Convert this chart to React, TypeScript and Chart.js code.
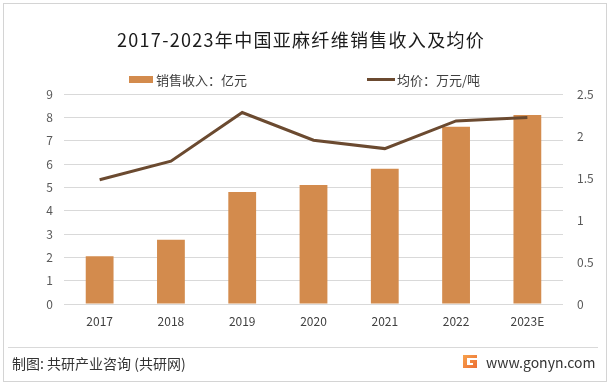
import { useEffect, useRef } from "react";
import { Chart, registerables } from "chart.js";

Chart.register(...registerables);

const categories = ["2017", "2018", "2019", "2020", "2021", "2022", "2023E"];
const revenue = [2.05, 2.75, 4.8, 5.1, 5.8, 7.6, 8.1];
const avgPrice = [1.48, 1.7, 2.28, 1.95, 1.85, 2.18, 2.22];
const leftTicks = ["0", "1", "2", "3", "4", "5", "6", "7", "8", "9"];
const rightTicks = ["0", "0.5", "1", "1.5", "2", "2.5"];
const titleText = "2017-2023年中国亚麻纤维销售收入及均价";
const revenueLabel = "销售收入：亿元";
const priceLabel = "均价：万元/吨";
const sourceText = "制图: 共研产业咨询 (共研网)";
const siteText = "www.gonyn.com";

const BAR_COLOR = "#D38B4D";
const LINE_COLOR = "#6B4A30";
const FONT = "'Noto Sans CJK SC', 'Noto Sans', sans-serif";

const decorPlugin = {
  id: "decor",
  beforeDraw(chart: any) {
    const ctx = chart.ctx;
    ctx.save();
    ctx.fillStyle = "#ffffff";
    ctx.fillRect(0, 0, chart.width, chart.height);
    ctx.restore();
  },
  afterDraw(chart: any) {
    const ctx = chart.ctx;
    const ds = chart.data.datasets;
    ctx.save();
    // outer border
    ctx.strokeStyle = "#d4d4d4";
    ctx.lineWidth = 1;
    ctx.strokeRect(3.5, 3.5, 603, 378);
    // title
    ctx.fillStyle = "#1a1a1a";
    ctx.font = `18px ${FONT}`;
    ctx.textAlign = "left";
    ctx.textBaseline = "middle";
    try {
      (ctx as any).letterSpacing = "1.3px";
    } catch (e) {}
    const tw = ctx.measureText(titleText).width;
    ctx.fillText(titleText, 301 - tw / 2, 40);
    try {
      (ctx as any).letterSpacing = "0px";
    } catch (e) {}
    // legend
    ctx.font = `13px ${FONT}`;
    ctx.textAlign = "left";
    ctx.fillStyle = ds[0].backgroundColor;
    ctx.fillRect(129, 76, 24, 7);
    ctx.fillStyle = "#404040";
    ctx.fillText(ds[0].label, 156, 80);
    ctx.strokeStyle = ds[1].borderColor;
    ctx.lineWidth = 3;
    ctx.beginPath();
    ctx.moveTo(367, 79.5);
    ctx.lineTo(395, 79.5);
    ctx.stroke();
    ctx.fillStyle = "#404040";
    ctx.fillText(ds[1].label, 397, 80);
    // separator
    ctx.strokeStyle = "#d9d9d9";
    ctx.lineWidth = 1;
    ctx.beginPath();
    ctx.moveTo(8, 347.5);
    ctx.lineTo(598, 347.5);
    ctx.stroke();
    // footer
    ctx.fillStyle = "#333333";
    ctx.font = `14px ${FONT}`;
    ctx.textAlign = "left";
    ctx.fillText(sourceText, 12, 364);
    // logo
    const g = ctx.createLinearGradient(463, 355, 477, 368);
    g.addColorStop(0, "#F7A24C");
    g.addColorStop(1, "#EC6E34");
    ctx.fillStyle = g;
    ctx.beginPath();
    ctx.moveTo(463, 355);
    ctx.lineTo(477, 355);
    ctx.lineTo(477, 358);
    ctx.lineTo(467, 358);
    ctx.lineTo(467, 365);
    ctx.lineTo(473, 365);
    ctx.lineTo(473, 363);
    ctx.lineTo(470, 363);
    ctx.lineTo(470, 360);
    ctx.lineTo(477, 360);
    ctx.lineTo(477, 368);
    ctx.lineTo(463, 368);
    ctx.closePath();
    ctx.fill();
    ctx.fillStyle = "#333333";
    ctx.font = `14px ${FONT}`;
    ctx.fillText(siteText, 486, 363);
    ctx.restore();
  },
};

export default function App() {
  const ref = useRef<HTMLCanvasElement | null>(null);
  useEffect(() => {
    if (!ref.current) return;
    const chart = new Chart(ref.current, {
      type: "bar",
      data: {
        labels: categories,
        datasets: [
          {
            type: "bar",
            label: revenueLabel,
            data: revenue,
            backgroundColor: BAR_COLOR,
            yAxisID: "y",
            order: 1,
            categoryPercentage: 1,
            barPercentage: 0.39,
          },
          {
            type: "line",
            label: priceLabel,
            data: avgPrice,
            borderColor: LINE_COLOR,
            backgroundColor: LINE_COLOR,
            borderWidth: 3,
            pointRadius: 0,
            tension: 0,
            yAxisID: "y1",
            order: 0,
          },
        ] as any,
      },
      options: {
        animation: false,
        responsive: false,
        maintainAspectRatio: false,
        layout: { padding: { top: 94, left: 0, right: 0, bottom: 0 } },
        plugins: {
          legend: { display: false },
          title: { display: false },
          tooltip: { enabled: false },
        },
        scales: {
          x: {
            grid: { display: false, drawTicks: false },
            border: { display: false },
            ticks: {
              color: "#404040",
              font: { family: FONT, size: 12 },
              padding: 10,
              maxRotation: 0,
            },
            afterFit(scale: any) {
              scale.height = 81;
            },
          },
          y: {
            position: "left",
            min: 0,
            max: 9,
            grid: { color: "#d9d9d9", lineWidth: 1, drawTicks: false },
            border: { display: false },
            ticks: {
              stepSize: 1,
              color: "#595959",
              font: { family: FONT, size: 12 },
              padding: 11,
              callback: (_v: any, i: number) => leftTicks[i],
            },
            afterFit(scale: any) {
              scale.width = 64;
            },
          },
          y1: {
            position: "right",
            min: 0,
            max: 2.5,
            grid: { display: false, drawTicks: false },
            border: { display: false },
            ticks: {
              stepSize: 0.5,
              color: "#595959",
              font: { family: FONT, size: 12 },
              padding: 14,
              callback: (_v: any, i: number) => rightTicks[i],
            },
            afterFit(scale: any) {
              scale.width = 49;
            },
          },
        },
      } as any,
      plugins: [decorPlugin],
    });
    return () => chart.destroy();
  }, []);
  return (
    <div style={{ position: "absolute", left: 0, top: 0, width: 612, height: 385 }}>
      <canvas ref={ref} width={612} height={385} style={{ width: 612, height: 385 }} />
    </div>
  );
}
